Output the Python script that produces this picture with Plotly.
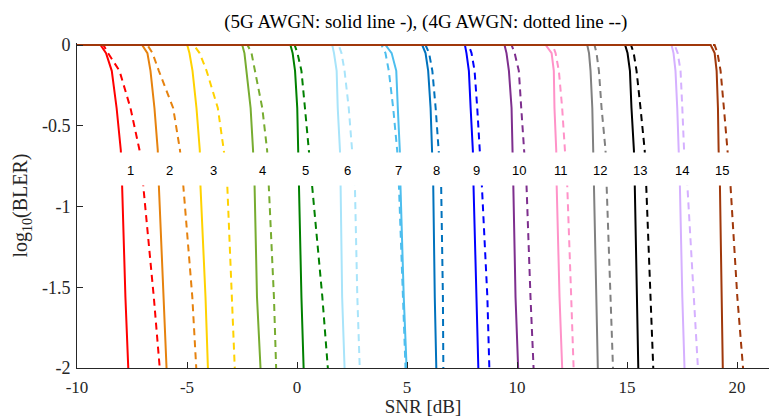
import plotly.graph_objects as go

# log10(BLER) levels at which SNR values were read (after a flat start at 0)
LB_LEVELS = [0.0, 0.0, -0.05, -0.16, -0.39, -0.65, -0.87, -1.56, -2.0]
SNR_START = -10.0

# SNR [dB] at each level (excluding the first flat point)
SOLID_5G = {
    1:  [-8.93, -8.68, -8.42, -8.20, -8.01, -7.95, -7.80, -7.67],
    2:  [-7.04, -6.80, -6.66, -6.48, -6.33, -6.28, -6.05, -5.93],
    3:  [-4.99, -4.89, -4.75, -4.57, -4.42, -4.39, -4.16, -4.05],
    4:  [-2.49, -2.39, -2.30, -2.11, -2.00, -1.93, -1.82, -1.66],
    5:  [-0.30, -0.20, -0.09, 0.01, 0.05, 0.10, 0.20, 0.30],
    6:  [1.60, 1.68, 1.80, 1.85, 1.95, 1.98, 2.05, 2.16],
    7:  [4.02, 4.30, 4.51, 4.58, 4.67, 4.70, 4.85, 4.98],
    8:  [5.69, 5.84, 5.96, 6.07, 6.15, 6.19, 6.26, 6.33],
    9:  [7.63, 7.70, 7.81, 7.89, 7.99, 8.02, 8.15, 8.24],
    10: [9.43, 9.52, 9.63, 9.75, 9.78, 9.83, 9.93, 10.05],
    11: [11.30, 11.57, 11.67, 11.70, 11.78, 11.80, 11.93, 12.05],
    12: [13.19, 13.27, 13.34, 13.42, 13.46, 13.49, 13.57, 13.67],
    13: [14.91, 15.02, 15.13, 15.20, 15.31, 15.35, 15.46, 15.51],
    14: [17.02, 17.11, 17.20, 17.28, 17.35, 17.40, 17.51, 17.61],
    15: [18.80, 18.98, 19.07, 19.13, 19.16, 19.22, 19.30, 19.35],
}
DASHED_4G = {
    1:  [-8.80, -8.59, -8.07, -7.57, -7.16, -6.99, -6.51, -6.24],
    2:  [-6.80, -6.57, -6.28, -5.63, -5.32, -5.17, -4.76, -4.58],
    3:  [-4.69, -4.43, -4.11, -3.60, -3.33, -3.17, -2.95, -2.83],
    4:  [-2.25, -2.07, -1.91, -1.58, -1.36, -1.28, -1.05, -0.95],
    5:  [-0.11, 0.02, 0.20, 0.36, 0.54, 0.69, 1.15, 1.40],
    6:  [1.89, 2.02, 2.16, 2.35, 2.51, 2.63, 2.74, 2.85],
    7:  [3.84, 4.02, 4.17, 4.37, 4.55, 4.63, 4.81, 4.93],
    8:  [5.84, 6.00, 6.15, 6.30, 6.45, 6.55, 6.63, 6.65],
    9:  [7.80, 7.93, 8.07, 8.19, 8.31, 8.40, 8.65, 8.74],
    10: [9.75, 9.89, 10.08, 10.19, 10.31, 10.43, 10.61, 10.75],
    11: [11.61, 11.75, 11.90, 12.05, 12.16, 12.28, 12.46, 12.57],
    12: [13.52, 13.61, 13.72, 13.84, 14.02, 14.07, 14.25, 14.36],
    13: [15.18, 15.30, 15.43, 15.61, 15.80, 15.87, 16.07, 16.19],
    14: [17.16, 17.30, 17.43, 17.51, 17.59, 17.74, 18.04, 18.22],
    15: [18.98, 19.11, 19.25, 19.40, 19.58, 19.70, 20.01, 20.27],
}
COLORS = {
    1: "#FF0000", 2: "#E6820E", 3: "#FFD200", 4: "#77AC30", 5: "#008000",
    6: "#A8E4FA", 7: "#4DBEEE", 8: "#0072BD", 9: "#0000FF", 10: "#7E2F8E",
    11: "#FF92C8", 12: "#808080", 13: "#000000", 14: "#D5B0FF", 15: "#A0380B",
}
LABEL_SNR = [-7.57, -5.80, -3.78, -1.58, 0.39, 2.28, 4.63, 6.33, 8.15, 10.08,
             12.0, 13.75, 15.58, 17.51, 19.33]
LABEL_LB = -0.78
MCS = list(range(1, 16))

X_TICKS = [-10, -5, 0, 5, 10, 15, 20]
Y_TICKS = [0, -0.5, -1, -1.5, -2]
Y_TICK_TEXT = ["0", "-0.5", "-1", "-1.5", "-2"]
X_TICK_TEXT = ["-10", "-5", "0", "5", "10", "15", "20"]

SERIF = "Liberation Serif, Times New Roman, serif"

fig = go.Figure()
for m in MCS:
    fig.add_trace(go.Scatter(
        x=[SNR_START] + DASHED_4G[m], y=LB_LEVELS, mode="lines",
        line=dict(color=COLORS[m], width=2, dash="7px,5px"),
        showlegend=False, hoverinfo="skip"))
for m in MCS:
    fig.add_trace(go.Scatter(
        x=[SNR_START] + SOLID_5G[m], y=LB_LEVELS, mode="lines",
        line=dict(color=COLORS[m], width=2),
        showlegend=False, hoverinfo="skip"))

# white band behind the labels
fig.add_shape(type="rect", xref="x", yref="y", x0=-9.6, x1=21.5,
              y0=-0.87, y1=-0.665, fillcolor="white", line_width=0, layer="above")

for m, xs in zip(MCS, LABEL_SNR):
    fig.add_annotation(x=xs, y=LABEL_LB, text=str(m), showarrow=False,
                       font=dict(family="Liberation Sans, Arial", size=13, color="#000"))

fig.update_layout(
    width=769, height=417,
    margin=dict(l=77, r=0, t=43, b=49),
    paper_bgcolor="white", plot_bgcolor="white",
    title=dict(text="(5G AWGN: solid line -), (4G AWGN: dotted line --)",
               x=0.504, xref="paper", xanchor="center", y=0.95, yanchor="middle",
               font=dict(family=SERIF, size=19, color="#000")),
    font=dict(family=SERIF, size=17, color="#262626"),
    xaxis=dict(range=[-10, 21.45], tickvals=X_TICKS, ticktext=X_TICK_TEXT,
               ticks="inside", ticklen=6, tickcolor="#262626", showgrid=False,
               ticklabelstandoff=4,
               zeroline=False, showline=True, linecolor="#262626", linewidth=1,
               tickfont=dict(family=SERIF, size=17, color="#262626"),
               title=dict(text="SNR [dB]", standoff=3,
                          font=dict(family=SERIF, size=19, color="#262626"))),
    yaxis=dict(range=[-2, 0.0124], tickvals=Y_TICKS, ticktext=Y_TICK_TEXT,
               ticks="inside", ticklen=6, tickcolor="#262626", showgrid=False,
               ticklabelstandoff=2,
               zeroline=False, showline=True, linecolor="#262626", linewidth=1,
               tickfont=dict(family=SERIF, size=18, color="#262626"),
               title=dict(text="log<sub>10</sub>(BLER)", standoff=8,
                          font=dict(family=SERIF, size=20, color="#262626"))),
)

fig.write_html("out.html")
